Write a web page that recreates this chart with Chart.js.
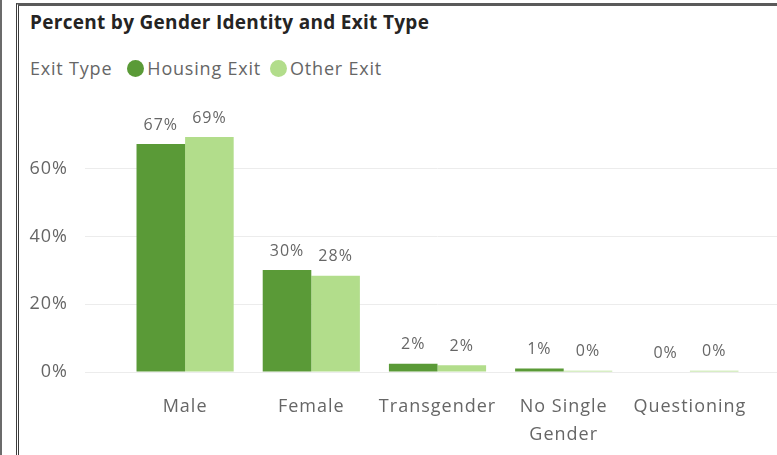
<!DOCTYPE html>
<html>
<head>
<meta charset="utf-8">
<script src="https://cdn.jsdelivr.net/npm/chart.js@4"></script>
<style>
  html, body { margin: 0; padding: 0; background: #fff; overflow: hidden; }
  body { width: 777px; height: 455px; position: relative; font-family: "Open Sans", sans-serif; }
  #outer-line { position: absolute; left: 0; top: 0; width: 2px; height: 455px; background: #6b6b6b; }
  #panel {
    position: absolute; left: 16px; top: 3px; width: 800px; height: 449px;
    border-left: 3px double #3c3c3c; border-top: 3px solid #5a5a5a; border-bottom: 1px solid #e2e2e2;
  }
  #title {
    position: absolute; left: 30px; top: 10px; font-size: 19px; font-weight: bold; letter-spacing: 0.3px;
    color: #252423; white-space: nowrap; line-height: 24px;
  }
  #legend {
    position: absolute; left: 30px; top: 56px; font-size: 18px; letter-spacing: 0.8px; color: #666;
    white-space: nowrap; line-height: 24px; display: flex; align-items: center;
  }
  #legend .dot { display: inline-block; width: 17px; height: 17px; border-radius: 50%; margin-right: 3px; }
  #legend .item { display: inline-flex; align-items: center; margin-right: 9px; }
  #legend .heading { margin-right: 15px; }
  #chart-box { position: absolute; left: 0; top: 0; width: 777px; height: 455px; }
</style>
</head>
<body>
<div id="outer-line"></div>
<div id="panel"></div>
<div id="title">Percent by Gender Identity and Exit Type</div>
<div id="legend"></div>
<div id="chart-box"><canvas id="chart"></canvas></div>
<script>
// values (percent)
const categories = ['Male', 'Female', 'Transgender', ['No Single', 'Gender'], 'Questioning'];
const housingExit = [67.3, 30.1, 2.4, 1.0, 0.0];
const otherExit = [69.4, 28.4, 2.0, 0.4, 0.4];
const seriesNames = ['Housing Exit', 'Other Exit'];
const legendTitle = 'Exit Type';
const yTicks = [0, 20, 40, 60];

const colors = ['#5a9a37', '#b2dd8b'];
const textGrey = '#666666';
const fontFamily = '"Open Sans", sans-serif';

// legend in html
const legend = document.getElementById('legend');
const heading = document.createElement('span');
heading.className = 'heading';
heading.textContent = legendTitle;
legend.appendChild(heading);
seriesNames.forEach((name, i) => {
    const item = document.createElement('span');
    item.className = 'item';
    const dot = document.createElement('span');
    dot.className = 'dot';
    dot.style.background = colors[i];
    item.appendChild(dot);
    item.appendChild(document.createTextNode(name));
    legend.appendChild(item);
});

// wider text like the original
const spacing = {
    id: 'spacing',
    beforeDraw(chart) { chart.ctx.letterSpacing = '1px'; }
};

const barLabels = {
    id: 'barLabels',
    afterDatasetsDraw(chart) {
        const ctx = chart.ctx;
        ctx.save();
        ctx.letterSpacing = '1px';
        ctx.font = '16px ' + fontFamily;
        ctx.fillStyle = textGrey;
        ctx.textAlign = 'center';
        ctx.textBaseline = 'middle';
        chart.data.datasets.forEach((ds, i) => {
            chart.getDatasetMeta(i).data.forEach((bar, j) => {
                ctx.fillText(Math.round(ds.data[j]) + '%', bar.x, bar.y - 19);
            });
        });
        ctx.restore();
    }
};

new Chart(document.getElementById('chart'), {
    type: 'bar',
    data: {
        labels: categories,
        datasets: [
            { label: seriesNames[0], data: housingExit, backgroundColor: colors[0] },
            { label: seriesNames[1], data: otherExit, backgroundColor: colors[1] }
        ]
    },
    options: {
        responsive: true,
        maintainAspectRatio: false,
        animation: false,
        layout: { padding: { top: 118, left: 0, right: 0, bottom: 0 } },
        datasets: {
            bar: { categoryPercentage: 0.77, barPercentage: 1.0, borderWidth: 0 }
        },
        plugins: {
            legend: { display: false },
            tooltip: { enabled: false }
        },
        scales: {
            x: {
                grid: { display: false, drawTicks: false },
                border: { display: false },
                ticks: {
                    color: textGrey,
                    padding: 21,
                    maxRotation: 0,
                    autoSkip: false,
                    font: { family: fontFamily, size: 18, lineHeight: '28px' }
                },
                afterFit: s => { s.height = 83; }
            },
            y: {
                min: 0,
                max: 75,
                grid: { color: '#ececec', lineWidth: 1, tickLength: 37, drawTicks: true },
                border: { display: false },
                ticks: {
                    color: textGrey,
                    padding: 17,
                    font: { family: fontFamily, size: 18 },
                    callback: v => v + '%'
                },
                afterBuildTicks: s => { s.ticks = yTicks.map(v => ({ value: v })); },
                afterFit: s => { s.width = 122; }
            },
            y2: {
                position: 'right',
                min: 0,
                max: 75,
                grid: { color: '#ececec', lineWidth: 1, tickLength: 24, drawOnChartArea: false },
                border: { display: false },
                ticks: { display: false },
                afterBuildTicks: s => { s.ticks = yTicks.map(v => ({ value: v })); },
                afterFit: s => { s.width = 24; }
            }
        }
    },
    plugins: [spacing, barLabels]
});
</script>
</body>
</html>
